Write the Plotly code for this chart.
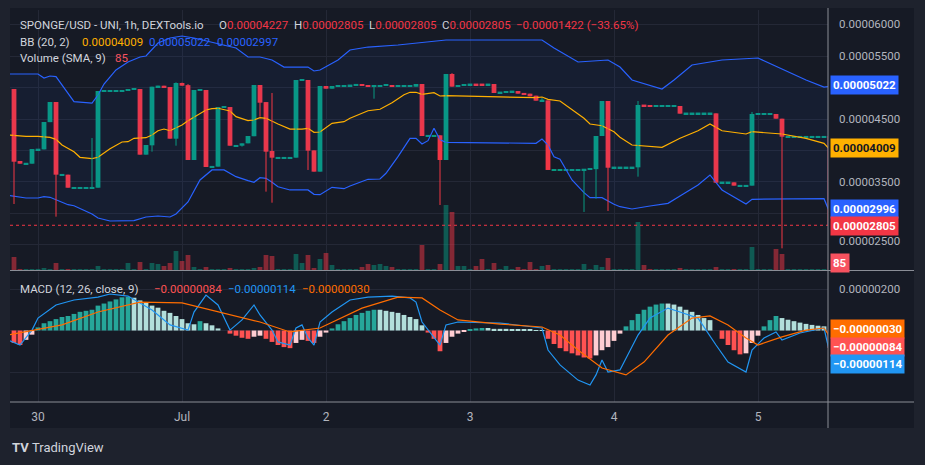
import plotly.graph_objects as go

# ---------------- data (prices in units of 1e-8 USD) ----------------
HOURS = list(range(-4, 133))  # hourly bars, hour 0 = 30 Jun 00:00
OPEN = [4978, 3830, 3790, 3787, 4015, 4015, 4450, 4771, 3612, 3612, 3404, 3404, 3404, 3404, 3404, 4947, 4947, 4947, 4947, 4947,
        4978, 4978, 3931, 4080, 5010, 5031, 5010, 4186, 5074, 5040, 3846, 4963, 4963, 3740, 3740, 4691, 4691, 4074, 4074, 4112,
        4225, 5042, 4770, 3990, 3883, 3883, 3883, 3883, 5120, 5122, 4000, 3660, 5026, 4983, 5026, 5015, 5037, 5037, 5058, 5042,
        5026, 5015, 5042, 5042, 5026, 5026, 5026, 5015, 5058, 4234, 4234, 4240, 3846, 5218, 5016, 5031, 5053, 5055, 5055, 5053,
        5058, 4925, 4925, 4941, 4946, 4906, 4904, 4872, 4797, 4797, 3690, 3690, 3690, 3690, 3690, 3690, 3705, 3700, 4229, 4787,
        3729, 3729, 3729, 3729, 3729, 4720, 4723, 4707, 4707, 4707, 4707, 4707, 4591, 4591, 4591, 4591, 4591, 4590, 3490, 3490,
        3490, 3437, 3437, 3437, 4580, 4580, 4580, 4580, 4505, 4218, 4218, 4218, 4218, 4218, 4218, 4218, 4227]
HIGH = [4978, 3830, 3790, 4021, 4015, 4452, 4771, 4771, 3612, 3612, 3404, 3404, 3404, 4197, 4947, 4947, 4947, 4947, 4947, 4978,
        4978, 4978, 4085, 5015, 5031, 5031, 5010, 5085, 5080, 5057, 4963, 4963, 4963, 3740, 4691, 4691, 4691, 4074, 4112, 4229,
        5042, 5042, 4770, 4915, 3883, 3883, 3883, 5122, 5120, 5122, 4000, 5026, 5026, 5026, 5026, 5042, 5037, 5058, 5058, 5042,
        5026, 5042, 5042, 5042, 5026, 5026, 5026, 5058, 5058, 4234, 4234, 4240, 5218, 5232, 5042, 5058, 5053, 5055, 5055, 5053,
        5058, 4925, 4941, 4941, 4946, 4906, 4904, 4872, 4835, 4797, 3690, 3690, 3690, 3690, 3690, 3700, 3705, 4229, 4787, 4787,
        3729, 3729, 3729, 3729, 4787, 4720, 4723, 4707, 4707, 4707, 4707, 4707, 4591, 4591, 4591, 4591, 4591, 4590, 3490, 3490,
        3490, 3437, 3437, 4612, 4580, 4580, 4580, 4580, 4505, 4218, 4218, 4218, 4218, 4218, 4218, 4218, 4227]
LOW = [3144, 3787, 3790, 3787, 4015, 4015, 4450, 2942, 3612, 3404, 3404, 3404, 3404, 3404, 3404, 4947, 4947, 4947, 4947, 4947,
       4978, 3931, 3931, 3979, 5010, 5000, 4186, 4074, 5031, 3846, 3846, 4963, 3734, 3740, 3740, 4691, 4074, 4074, 4060, 4112,
       4225, 4537, 3341, 3165, 3883, 3883, 3883, 3883, 5120, 3687, 3660, 3660, 4983, 4983, 5026, 5015, 5037, 5037, 5031, 5015,
       4824, 5015, 5042, 5015, 5026, 5026, 5026, 5015, 4229, 4234, 4234, 3128, 3846, 5016, 5016, 5031, 5053, 5051, 5051, 5053,
       4915, 4925, 4925, 4941, 4904, 4902, 4862, 4792, 4792, 3687, 3690, 3690, 3690, 3690, 3690, 3017, 3705, 3229, 4229, 3033,
       3729, 3729, 3729, 3729, 3580, 4716, 4697, 4707, 4707, 4707, 4707, 4585, 4591, 4591, 4591, 4591, 4591, 3484, 3490, 3490,
       3437, 3437, 3437, 3437, 4580, 4580, 4580, 4505, 2437, 4218, 4218, 4218, 4218, 4218, 4218, 4218, 2805]
CLOSE = [3819, 3787, 3790, 4021, 4015, 4452, 4771, 3612, 3612, 3404, 3404, 3404, 3404, 3404, 4947, 4947, 4947, 4947, 4947, 4978,
         4978, 3931, 4085, 5015, 5031, 5000, 4186, 5074, 5031, 3846, 4963, 4963, 3734, 3740, 4691, 4691, 4074, 4074, 4112, 4229,
         5042, 4760, 3979, 3883, 3883, 3883, 3883, 5122, 5120, 3995, 3660, 5026, 4983, 5026, 5026, 5042, 5037, 5058, 5031, 5015,
         5026, 5042, 5042, 5015, 5026, 5026, 5026, 5058, 4229, 4234, 4234, 3846, 5218, 5016, 5042, 5058, 5053, 5051, 5051, 5053,
         4915, 4925, 4941, 4941, 4904, 4902, 4862, 4792, 4797, 3687, 3690, 3690, 3690, 3690, 3690, 3700, 3705, 4229, 4787, 3723,
         3729, 3729, 3729, 3729, 4723, 4716, 4697, 4707, 4707, 4707, 4707, 4585, 4591, 4591, 4591, 4591, 4591, 3484, 3490, 3490,
         3437, 3437, 3437, 4580, 4580, 4580, 4580, 4505, 4218, 4218, 4218, 4218, 4218, 4218, 4218, 4218, 2805]
VOLUME = [13, 1, 1, 1, 1, 2, 1, 7, 1, 1, 1, 1, 1, 1, 4, 1, 1, 1, 1, 7,
          1, 8, 1, 7, 6, 4, 7, 19, 9, 15, 3, 1, 3, 1, 1, 1, 2, 1, 1, 1,
          2, 3, 15, 14, 1, 1, 1, 16, 7, 15, 2, 11, 17, 5, 1, 1, 1, 1, 3, 6,
          5, 6, 4, 3, 1, 1, 1, 1, 25, 1, 1, 6, 65, 58, 4, 4, 1, 4, 11, 1,
          7, 1, 4, 1, 3, 1, 8, 1, 4, 5, 1, 1, 1, 1, 1, 6, 1, 5, 3, 12,
          1, 1, 1, 1, 48, 5, 1, 1, 1, 1, 1, 2, 1, 1, 1, 1, 1, 3, 1, 1,
          1, 1, 1, 23, 1, 1, 1, 21, 16, 1, 1, 1, 1, 1, 1, 1, 10]

# Bollinger Bands (20, 2) vertices: hour, value (1e-8)
BB_UP_H = [-5, 0, 1, 2, 3, 6, 9, 10, 11, 13, 15, 17, 18, 20, 22, 24, 26, 28, 32, 33, 35, 37, 39, 41, 45, 46, 47, 50,
           52, 55, 60, 65, 68, 84, 86, 90, 95, 97, 99, 104, 106, 109, 114, 120, 128, 131, 132]
BB_UP = [5218, 5218, 5154, 5186, 5175, 4776, 4755, 4883, 5058, 5282, 5409, 5489, 5505, 5712, 5792, 5824, 5792, 5744, 5648,
         5632, 5489, 5489, 5441, 5329, 5329, 5266, 5282, 5441, 5600, 5648, 5680, 5728, 5760, 5760, 5632, 5409, 5441, 5329,
         5122, 4978, 5122, 5361, 5441, 5473, 5122, 5010, 5022]
BB_MID_H = [-5, -2, 0, 2, 3, 4, 6, 7, 9, 10, 12, 14, 15, 16, 18, 19, 20, 21, 22, 24, 25, 26, 28, 29, 30, 32, 33, 35, 36,
            37, 38, 40, 42, 44, 45, 46, 47, 49, 51, 52, 55, 57, 59, 61, 62, 63, 64, 66, 67, 68, 83, 84, 85, 87, 89, 91,
            92, 94, 96, 97, 99, 102, 104, 107, 110, 112, 114, 118, 119, 124, 128, 131, 132]
BB_MID = [4245, 4224, 4224, 4208, 4176, 4085, 3978, 3889, 3867, 3889, 4026, 4133, 4138, 4192, 4202, 4245, 4313, 4340, 4313,
          4404, 4473, 4527, 4644, 4664, 4671, 4628, 4537, 4473, 4484, 4521, 4511, 4420, 4340, 4340, 4352, 4288, 4293, 4431,
          4457, 4511, 4632, 4655, 4760, 4888, 4926, 4926, 4894, 4919, 4867, 4872, 4840, 4851, 4814, 4787, 4655, 4511, 4420,
          4393, 4297, 4208, 4085, 4058, 4049, 4192, 4313, 4420, 4313, 4261, 4297, 4261, 4192, 4112, 4009]
BB_LO_H = [-5, -2, 0, 1, 2, 4, 5, 6, 8, 9, 10, 12, 16, 18, 20, 22, 23, 25, 27, 29, 31, 33, 35, 36, 37, 38, 39, 40, 42,
           44, 45, 46, 47, 49, 51, 52, 55, 57, 58, 60, 62, 63, 64, 65, 66, 67, 68, 83, 84, 85, 86, 87, 89, 91, 92, 94,
           96, 97, 99, 102, 105, 107, 110, 112, 114, 118, 119, 131, 132]
BB_LO = [3283, 3240, 3240, 3261, 3251, 3171, 3133, 3117, 3021, 2985, 2921, 2873, 2878, 2937, 2953, 2937, 2985, 3176, 3527,
         3687, 3687, 3580, 3516, 3490, 3564, 3554, 3490, 3420, 3368, 3363, 3368, 3299, 3293, 3411, 3388, 3431, 3538, 3543,
         3634, 3899, 4192, 4192, 4101, 4154, 4352, 4170, 4128, 4112, 4181, 4085, 3899, 3857, 3527, 3325, 3245, 3245, 3139,
         3101, 3065, 3112, 3155, 3272, 3447, 3607, 3368, 3144, 3219, 3229, 2996]

# MACD (12, 26, close, 9), units 1e-8
MACD_H = [-5, -3, -1, 0, 3, 6, 10, 12, 15, 19, 22, 25, 26, 28, 30, 32, 34, 36, 37, 39, 40, 42, 43, 44, 45, 46, 47, 49,
          52, 55, 59, 62, 63, 64, 67, 68, 70, 77, 84, 85, 87, 90, 92, 93, 94, 95, 97, 100, 102, 105, 107, 110, 113, 115,
          118, 119, 121, 123, 124, 127, 131, 132]
MACD = [-46, -70, 2, 60, 123, 147, 161, 176, 166, 99, 27, 2, 89, 171, 123, 2, 51, 123, 75, 2, -55, -70, 12, 27, -36, -70,
        41, 89, 147, 161, 166, 157, 137, 41, -70, 27, 41, 36, 12, -94, -166, -239, -263, -214, -142, -200, -190, -22, 60,
        108, 89, 60, -70, -152, -200, -94, -36, -7, -46, -12, 12, -114]
SIGNAL_H = [-5, 4, 10, 17, 24, 30, 37, 42, 47, 54, 60, 64, 67, 70, 77, 84, 87, 90, 94, 98, 101, 105, 109, 112, 115, 118,
            120, 124, 128, 131, 132]
SIGNAL = [-22, 27, 89, 137, 133, 89, 41, -7, 12, 108, 161, 157, 99, 51, 31, 17, -22, -94, -181, -214, -152, -22, 60, 70,
          27, -36, -70, -31, 2, 12, -30]
HIST = [-60, -70, -45, -20, 15,
        35, 45, 55, 65, 70, 80, 90, 95, 100, 120, 130, 140, 150, 160,
        162, 158, 145, 135, 120, 110, 95, 85,
        70, 55, 35, 30,
        45, 35, 25, 10, 0, -15,
        -25, -35, -40, -30, -25,
        -40, -55, -70, -80, -85,
        -60, -45, -50, -60, -30,
        -10, 10, 30, 45, 60, 75, 85, 95, 100,
        100, 95, 90, 85, 75, 65, 55,
        25, -10, -40, -100, -60,
        -30, -15, -5, 5, 10, 12, 12,
        8, 8, 8, 6, 5, 4, 3, 2, 2,
        -40, -65, -85, -100, -110, -120, -130, -135, -120, -95, -80,
        -50, -15, 20, 50, 80,
        100, 115, 125, 130, 130, 125, 115, 100,
        90, 75, 60, 50, 0,
        -40, -70, -95, -115, -110,
        -60, -25, 20, 50, 70, 60,
        52, 45, 38, 32, 27, 23, 20, -84]

DAY_TICKS = [0, 24, 48, 72, 96, 120]
DAY_LABELS = ["30", "Jul", "2", "3", "4", "5"]
PRICE_TICKS = [6000, 5500, 4500, 3500, 2500]
U = 1e-8

# ---------------- styling / layout helpers ----------------
W, H = 925, 465
PL, PR, PT, PB = 10, 97, 10, 63
PW, PH = W - PL - PR, H - PT - PB
def fx(px): return (px - PL) / PW
def fy(py): return (H - PB - py) / PH

UP, DN = "#089981", "#f23645"
BG = "#161a25"
TXT = "#b2b5be"
FONT = "Roboto"
XR = [-4.667, 131.667]

fig = go.Figure()

# Bollinger band fill
fig.add_trace(go.Scatter(x=BB_UP_H + BB_LO_H[::-1], y=[v * U for v in BB_UP + BB_LO[::-1]],
                         fill="toself", fillcolor="rgba(41,98,255,0.06)", line=dict(width=0),
                         mode="lines", hoverinfo="skip", xaxis="x", yaxis="y"))

# Volume
vcol = ["rgba(8,153,129,0.5)" if c >= o else "rgba(242,54,69,0.5)" for o, c in zip(OPEN, CLOSE)]
fig.add_trace(go.Bar(x=HOURS, y=VOLUME, marker=dict(color=vcol, line=dict(width=0)), width=0.8,
                     xaxis="x", yaxis="y3"))

# BB lines
fig.add_trace(go.Scatter(x=BB_UP_H, y=[v * U for v in BB_UP], mode="lines", line=dict(color="#2962ff", width=1.2),
                         xaxis="x", yaxis="y"))
fig.add_trace(go.Scatter(x=BB_LO_H, y=[v * U for v in BB_LO], mode="lines", line=dict(color="#2962ff", width=1.2),
                         xaxis="x", yaxis="y"))
fig.add_trace(go.Scatter(x=BB_MID_H, y=[v * U for v in BB_MID], mode="lines", line=dict(color="#ffb000", width=1.2),
                         xaxis="x", yaxis="y"))

# Candles: wicks
for col, cond in ((UP, lambda o, c: c >= o), (DN, lambda o, c: c < o)):
    wx, wy = [], []
    for h, o, hi, lo, c in zip(HOURS, OPEN, HIGH, LOW, CLOSE):
        if cond(o, c) and hi > lo:
            wx += [h, h, None]
            wy += [lo * U, hi * U, None]
    fig.add_trace(go.Scatter(x=wx, y=wy, mode="lines", line=dict(color=col, width=1), xaxis="x", yaxis="y"))

# Candles: bodies
MINB = 24
base, hgt, bcol = [], [], []
for o, c in zip(OPEN, CLOSE):
    lo, hi = min(o, c), max(o, c)
    if hi - lo < MINB:
        mid = (hi + lo) / 2
        lo, hi = mid - MINB / 2, mid + MINB / 2
    base.append(lo * U)
    hgt.append((hi - lo) * U)
    bcol.append(UP if c >= o else DN)
fig.add_trace(go.Bar(x=HOURS, y=hgt, base=base, width=0.8, marker=dict(color=bcol, line=dict(width=0)),
                     xaxis="x", yaxis="y"))

# MACD histogram
hcol = []
prev = 0
for v in HIST:
    if v >= 0:
        hcol.append("#26a69a" if v > prev else "#b2dfdb")
    else:
        hcol.append("#ff5252" if v < prev else "#ffcdd2")
    prev = v
fig.add_trace(go.Bar(x=HOURS, y=[v * U for v in HIST], width=0.8, marker=dict(color=hcol, line=dict(width=0)),
                     xaxis="x2", yaxis="y2"))
fig.add_trace(go.Scatter(x=MACD_H, y=[v * U for v in MACD], mode="lines", line=dict(color="#2196f3", width=1.2),
                         xaxis="x2", yaxis="y2"))
fig.add_trace(go.Scatter(x=SIGNAL_H, y=[v * U for v in SIGNAL], mode="lines", line=dict(color="#ff6d00", width=1.2),
                         xaxis="x2", yaxis="y2"))

GRID = "#242836"
main_lo = 4500 - (270 - 119) * 15.95
main_hi = 4500 + (119 - 10) * 15.95
fig.update_layout(
    width=W, height=H, margin=dict(l=PL, r=PR, t=PT, b=PB),
    paper_bgcolor="#1e222d", plot_bgcolor=BG, showlegend=False, barmode="overlay",
    font=dict(family=FONT, color=TXT, size=12),
    xaxis=dict(domain=[0, 1], range=XR, anchor="y", tickvals=DAY_TICKS, showticklabels=False,
               showgrid=True, gridcolor=GRID, zeroline=False, fixedrange=True),
    xaxis2=dict(domain=[0, 1], range=XR, anchor="y2", tickvals=DAY_TICKS, ticktext=DAY_LABELS,
                showgrid=True, gridcolor=GRID, zeroline=False, ticks="", ticklabelstandoff=6,
                tickfont=dict(size=12, color=TXT)),
    yaxis=dict(domain=[fy(270), 1], range=[main_lo * U, main_hi * U], tickvals=[v * U for v in range(2500, 6001, 500)],
               showticklabels=False, showgrid=True, gridcolor=GRID, zeroline=False),
    yaxis3=dict(overlaying="y", range=[0, 260], visible=False),
    yaxis2=dict(domain=[0, fy(272)], range=[-3.446e-6, 2.82e-6], tickvals=[-2e-6, 0, 2e-6],
                showticklabels=False, showgrid=True, gridcolor=GRID, zeroline=False),
)

shapes = []
shapes.append(dict(type="rect", xref="paper", yref="paper", x0=fx(10), x1=fx(914), y0=fy(428), y1=fy(8),
                   fillcolor=BG, line=dict(width=0), layer="below"))
shapes.append(dict(type="line", xref="paper", yref="y", x0=0, x1=1, y0=CLOSE[-1] * U, y1=CLOSE[-1] * U,
                   line=dict(color=DN, width=1, dash="dot")))
SEP = "#8a8d96"
shapes.append(dict(type="line", xref="paper", yref="paper", x0=1, x1=1, y0=fy(428), y1=fy(8), line=dict(color=SEP, width=1)))
shapes.append(dict(type="line", xref="paper", yref="paper", x0=0, x1=fx(914), y0=fy(270.5), y1=fy(270.5), line=dict(color=SEP, width=1)))
shapes.append(dict(type="line", xref="paper", yref="paper", x0=0, x1=fx(914), y0=fy(402), y1=fy(402), line=dict(color=SEP, width=1)))
fig.update_layout(shapes=shapes)

ann = []
def label(text, px, py, color=TXT, size=11.5, anchor="left"):
    ann.append(dict(text=text, x=fx(px), y=fy(py), xref="paper", yref="paper", xanchor=anchor, yanchor="middle",
                    showarrow=False, font=dict(color=color, size=size, family=FONT)))
def box(text, py, bg, fg="#ffffff"):
    ann.append(dict(text="<b>" + text + "</b>", x=fx(830), y=fy(py), xref="paper", yref="paper", xanchor="left",
                    yanchor="middle", showarrow=False, bgcolor=bg, borderpad=2,
                    font=dict(color=fg, size=11.5, family=FONT)))

for v, py in zip(PRICE_TICKS, [24, 55.5, 118.5, 181.5, 241]):
    label("%.8f" % (v * U), 837, py)
label("%.8f" % 2e-6, 837, 289)

box("%.8f" % (BB_UP[-1] * U), 85, "#2962ff")
box("%.8f" % (BB_MID[-1] * U), 148, "#ffb000", "#131722")
box("%.8f" % (BB_LO[-1] * U), 208.5, "#2962ff")
box("%.8f" % (CLOSE[-1] * U), 226, DN)
ann.append(dict(text="<b>85</b>", x=fx(830), y=fy(263), xref="paper", yref="paper", xanchor="left", yanchor="middle",
                showarrow=False, bgcolor="#f7525f", borderpad=2, font=dict(color="#ffffff", size=11.5, family=FONT)))
box("\u2212%.8f" % (abs(SIGNAL[-1]) * U), 329, "#ff6d00")
box("\u2212%.8f" % (abs(HIST[-1]) * U), 346.5, "#ff5252")
box("\u2212%.8f" % (abs(MACD[-1]) * U), 364, "#2196f3")

HDR = "#d1d4dc"
label("SPONGE/USD - UNI, 1h, DEXTools.io", 18, 25, HDR)
def red(s): return "<span style='color:%s'>%s</span>" % (DN, s)
label("O" + red("0.00004227"), 217, 25, HDR)
label("H" + red("0.00002805"), 292, 25, HDR)
label("L" + red("0.00002805"), 367, 25, HDR)
label("C" + red("0.00002805"), 440, 25, HDR)
label(red("\u22120.00001422 (\u221233.65%)"), 514, 25, HDR)
label("BB (20, 2)", 18, 42, HDR)
label("0.00004009", 80, 42, "#ffb000")
label("0.00005022", 147, 42, "#2962ff")
label("0.00002997", 215, 42, "#2962ff")
label("Volume (SMA, 9)", 18, 58.5, HDR)
label("85", 113, 58.5, "#f7525f")
label("MACD (12, 26, close, 9)", 18, 288.5, HDR)
label("\u22120.00000084", 152, 288.5, "#ff5252")
label("\u22120.00000114", 226, 288.5, "#2196f3")
label("\u22120.00000030", 300, 288.5, "#ff6d00")
label("<b>TV</b>", 10, 447, "#d1d4dc", 13)
label("TradingView", 30, 447, "#d1d4dc", 13)
fig.update_layout(annotations=ann)

fig.write_html("out.html")
